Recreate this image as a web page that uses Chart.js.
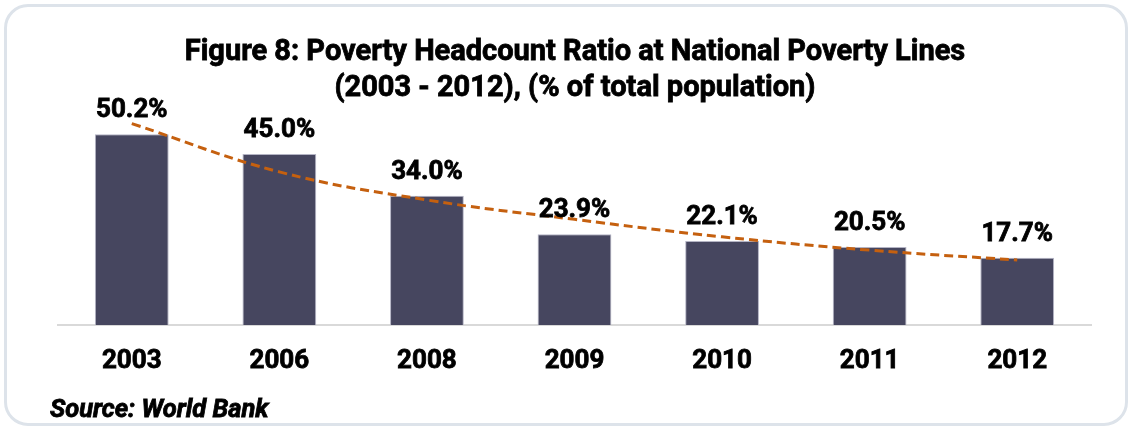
<!DOCTYPE html>
<html>
<head>
<meta charset="utf-8">
<script src="https://cdn.jsdelivr.net/npm/chart.js@4/dist/chart.umd.min.js"></script>
<style>
  html, body { margin: 0; padding: 0; background: #fff; }
  #wrap { position: relative; width: 1130px; height: 432px; overflow: hidden; }
  #frame {
    position: absolute; left: 4px; top: 4px; width: 1124px; height: 422px;
    border: 3px solid #dde3ea; border-radius: 24px; box-sizing: border-box;
  }
  canvas { position: absolute; left: 0; top: 0; }
</style>
</head>
<body>
<div id="wrap">
  <div id="frame"></div>
  <canvas id="myChart" width="1130" height="432"></canvas>
</div>
<script>
// ====== Poverty headcount ratio chart =========

const years = ["2003", "2006", "2008", "2009", "2010", "2011", "2012"];
const ratio = [50.2, 45.0, 34.0, 23.9, 22.1, 20.5, 17.7];
// dashed trend curve, read per year
const trend = [53.0, 40.3, 32.9, 27.8, 23.2, 19.7, 17.1];

const titleLines = [
  "Figure 8: Poverty Headcount Ratio at National Poverty Lines",
  "(2003 - 2012), (% of total population)",
];
const sourceText = "Source: World Bank";

// fill + thin stroke so the bold text comes out heavier
function heavyText(ctx, str, x, y) {
  ctx.fillText(str, x, y);
  ctx.strokeText(str, x, y);
}

// titles, value labels and the source note
const textPlugin = {
  id: "texts",
  afterDatasetsDraw(chart) {
    const ctx = chart.ctx;
    ctx.save();
    ctx.fillStyle = "#000";
    ctx.strokeStyle = "#000";
    ctx.lineWidth = 0.8;
    ctx.textAlign = "center";
    ctx.textBaseline = "alphabetic";
    ctx.font = "bold 26px Roboto";
    const bars = chart.getDatasetMeta(1).data;
    for (let i = 0; i < bars.length; i++) {
      heavyText(ctx, ratio[i].toFixed(1) + "%", bars[i].x, bars[i].y - 17);
    }
    ctx.restore();
  },
  afterDraw(chart) {
    const ctx = chart.ctx;
    ctx.save();
    ctx.fillStyle = "#000";
    ctx.strokeStyle = "#000";
    ctx.lineWidth = 0.8;
    ctx.textBaseline = "alphabetic";
    ctx.textAlign = "center";
    ctx.font = "bold 29px Roboto";
    heavyText(ctx, titleLines[0], 575, 60);
    heavyText(ctx, titleLines[1], 575, 96);
    ctx.textAlign = "left";
    ctx.font = "italic bold 25.5px Roboto";
    heavyText(ctx, sourceText, 50, 417);
    ctx.restore();
  },
};

let ctx = document.getElementById("myChart").getContext("2d");

var graphie = new Chart(ctx, {
  type: "bar",
  data: {
    labels: years,
    datasets: [
      {
        type: "line",
        label: "Trend",
        data: trend,
        borderColor: "#c5600f",
        borderWidth: 3,
        borderDash: [9, 5],
        pointRadius: 0,
        tension: 0.4,
        fill: false,
        order: 0,
      },
      {
        label: "Poverty headcount",
        data: ratio,
        backgroundColor: "#46465f",
        borderColor: "#b4b4c4",
        borderWidth: 1,
        categoryPercentage: 1,
        barPercentage: 0.5,
        order: 1,
      },
    ],
  },
  options: {
    responsive: false,
    animation: false,
    layout: {
      padding: { top: 97, left: 58, right: 39, bottom: 0 },
    },
    plugins: {
      legend: { display: false },
      title: { display: false },
      tooltip: { enabled: false },
    },
    scales: {
      y: {
        display: false,
        min: 0,
        max: 60,
      },
      x: {
        afterFit: (axis) => {
          axis.height = 107;
        },
        grid: { display: false, drawTicks: false },
        border: { display: true, color: "#d9d9d9", width: 2 },
        ticks: {
          color: "#000",
          padding: 21,
          textStrokeColor: "#000",
          textStrokeWidth: 0.8,
          font: { family: "Roboto", size: 26, weight: "bold" },
        },
      },
    },
  },
  plugins: [textPlugin],
});
</script>
</body>
</html>
